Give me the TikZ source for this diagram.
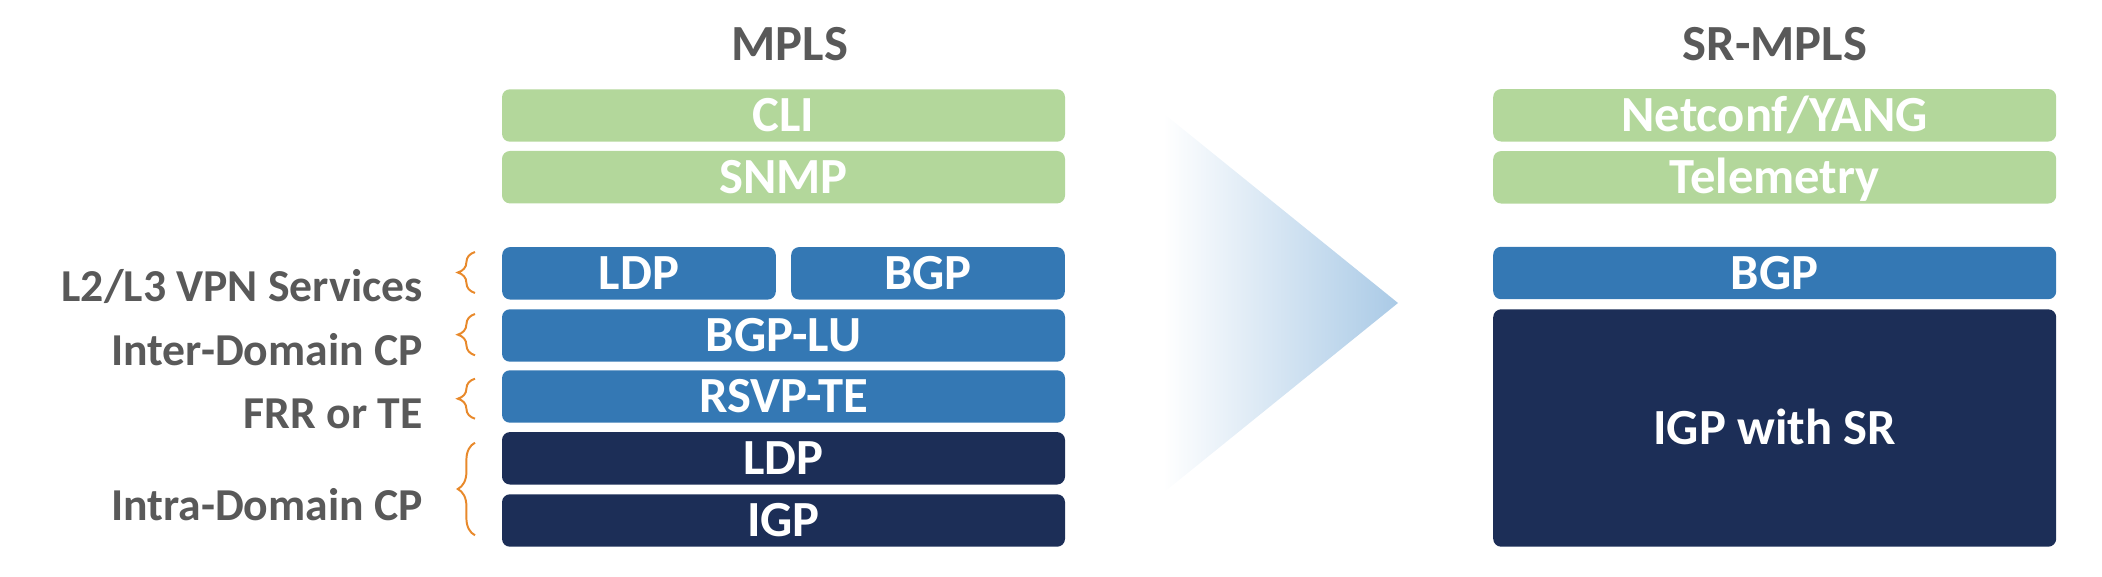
\documentclass[tikz,border=0pt]{standalone}
\usepackage{fontspec}
\setmainfont{Carlito}
\usetikzlibrary{decorations.pathreplacing}

\definecolor{mgmtgreen}{RGB}{179,215,155}
\definecolor{ctrlblue}{RGB}{52,120,180}
\definecolor{basenavy}{RGB}{28,46,87}
\definecolor{labelgray}{RGB}{89,89,89}
\definecolor{braceorange}{RGB}{232,137,43}
\definecolor{arrowblue}{RGB}{170,202,230}

\begin{document}
\begin{tikzpicture}[x=0.25mm, y=-0.25mm,
    layer/.style={shape=rectangle, rounded corners=2mm, inner sep=0pt,
      minimum width=140.75mm, minimum height=13.12mm, text=white,
      font=\fontsize{36}{36}\selectfont\bfseries, text height=23pt, text depth=0pt},
    title/.style={anchor=base, inner sep=0pt, text=labelgray,
      font=\fontsize{36}{36}\selectfont\bfseries},
    side/.style={anchor=base east, inner sep=0pt, text=labelgray,
      font=\fontsize{32.5}{32.5}\selectfont\bfseries},
    bracket/.style={braceorange, line width=1.4pt, decorate,
      decoration={brace, amplitude=4.3mm}}]
      \useasboundingbox (0,0) rectangle (2102,576);

      % MPLS stack ---------------------------------------------------------------
      \node[title] at (790,60.7) (mpls_title) {MPLS};
      \node[layer, fill=mgmtgreen] at (783.5,115.5) (cli_mpls) {CLI};
      \node[layer, fill=mgmtgreen] at (783.5,177.2) (snmp_mpls) {SNMP};
      \node[layer, fill=ctrlblue, minimum width=68.4mm] at (639,273.3) (ldp_vpn) {LDP};
      \node[layer, fill=ctrlblue, minimum width=68.4mm] at (928,273.3) (bgp_vpn) {BGP};
      \node[layer, fill=ctrlblue] at (783.5,335.5) (bgplu_mpls) {BGP-LU};
      \node[layer, fill=ctrlblue] at (783.5,396.5) (rsvp_mpls) {RSVP-TE};
      \node[layer, fill=basenavy] at (783.5,458.3) (ldp_mpls) {LDP};
      \node[layer, fill=basenavy] at (783.5,520.5) (igp_mpls) {IGP};

      \node[side] at (423,301.7) (vpn_label) {L2/L3 VPN Services};
      \node[side] at (423,365.0) (inter_label) {Inter-Domain CP};
      \node[side] at (423,428.3) (frr_label) {FRR or TE};
      \node[side] at (423,520.0) (intra_label) {Intra-Domain CP};

      \draw[bracket] (475,293.0) -- (475,252.0);
      \draw[bracket] (475,355.3) -- (475,314.0);
      \draw[bracket] (475,418.7) -- (475,378.7);
      \draw[bracket] (475,535.3) -- (475,442.7);

      % --------------------------------------------------------------------------
      \shade[left color=white, right color=arrowblue] (1163,113) -- (1398,303) -- (1163,493) -- cycle;

      % SR-MPLS stack ------------------------------------------------------------
      \node[title] at (1775,60.7) (srmpls_title) {SR-MPLS};
      \node[layer, fill=mgmtgreen] at (1774.7,115.3) (netconf_sr) {Netconf/YANG};
      \node[layer, fill=mgmtgreen] at (1774.7,177.3) (telemetry_sr) {Telemetry};
      \node[layer, fill=ctrlblue] at (1774.7,273.0) (bgp_sr) {BGP};
      \node[layer, fill=basenavy, minimum height=59.35mm] at (1774.7,428.0) (igp_sr) {IGP with SR};
    \end{tikzpicture}
\end{document}
